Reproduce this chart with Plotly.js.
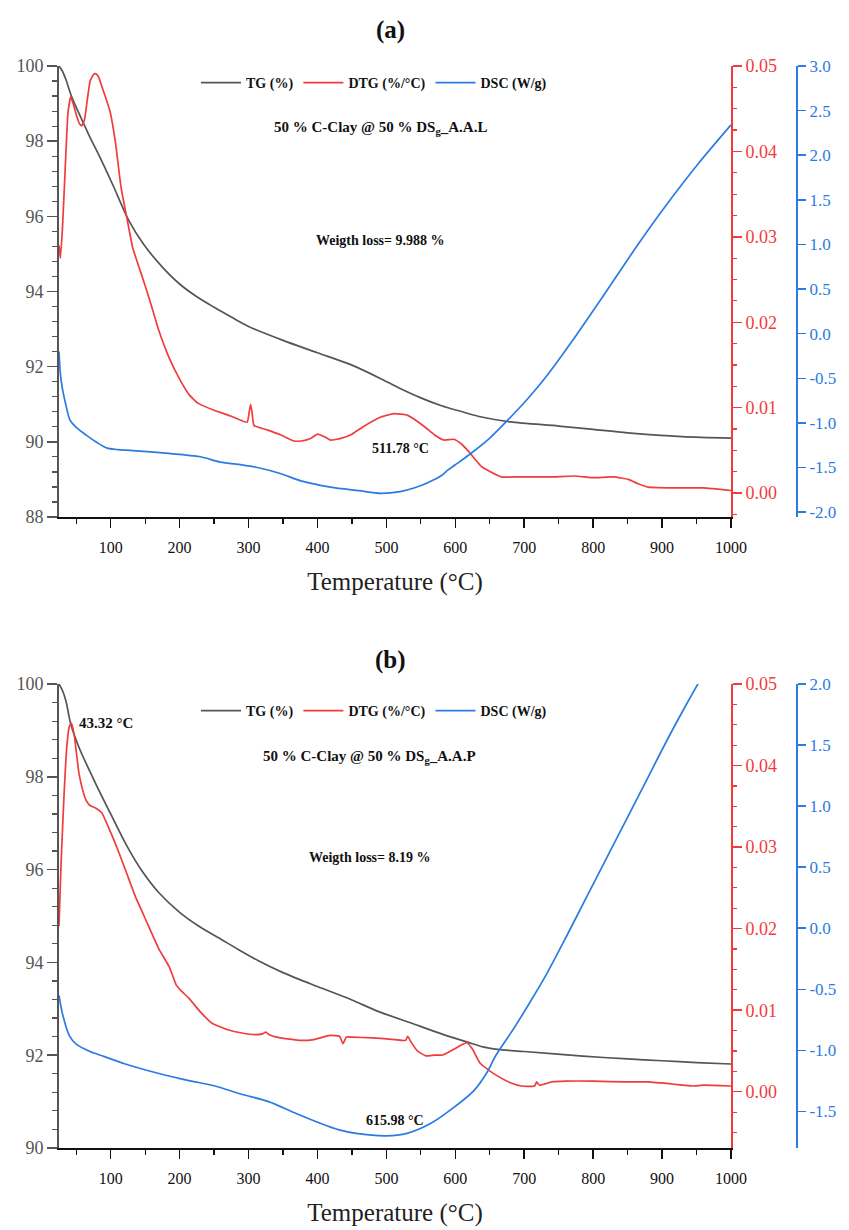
<!DOCTYPE html>
<html>
<head>
<meta charset="utf-8">
<script src="https://cdn.plot.ly/plotly-3.0.1.min.js"></script>
<style>html,body{margin:0;padding:0;background:#fff;}#chart{width:849px;height:1230px;}</style>
</head>
<body>
<div id="chart"></div>
<script>
// ---------- Panel (a): 50 % C-Clay @ 50 % DSg_A.A.L ----------
const tempA_TG = [25,30,35,43,50,60,70,85,104,126,148,175,200,225,250,275,300,350,400,450,492,520,550,580,610,638,680,750,800,850,929,1000];
const tgA      = [100,99.86,99.64,99.2,98.9,98.5,98.1,97.55,96.8,95.9,95.25,94.65,94.2,93.86,93.58,93.32,93.07,92.7,92.37,92.04,91.68,91.42,91.17,90.96,90.8,90.66,90.53,90.42,90.33,90.24,90.14,90.1];

const tempA_DTG = [25,27,30,34,38,42,46,50,55,58,62,66,70,75,78,82,88,94,99,107,115,124,132,145,157,170,185,201,214,227,250,275,298,301,303,305,308,327,347,366,376,390,400,410,419,434,450,467,492,511,531,555,570,584,598,608,618,638,667,690,710,740,773,800,830,851,865,880,929,960,1000];
const dtgA      = [0.029,0.0275,0.031,0.038,0.0445,0.0464,0.0455,0.0443,0.0432,0.043,0.0437,0.046,0.0482,0.049,0.0491,0.0488,0.0474,0.046,0.0447,0.041,0.0358,0.032,0.0287,0.0255,0.0225,0.019,0.0158,0.0132,0.0115,0.0105,0.0097,0.009,0.0083,0.0095,0.0104,0.0095,0.0079,0.0074,0.0068,0.0061,0.0061,0.0064,0.0069,0.0066,0.0062,0.0064,0.0069,0.0078,0.0089,0.0093,0.0091,0.0078,0.0068,0.0062,0.0063,0.0058,0.005,0.0031,0.0019,0.0019,0.0019,0.0019,0.002,0.0018,0.0019,0.0016,0.0011,0.0007,0.0006,0.0006,0.0003];

const tempA_DSC = [25,27,30,35,41,50,65,80,94,110,132,180,230,259,290,313,347,376,419,460,492,520,540,560,580,589,600,623,650,676,705,734,768,817,866,904,953,1000];
const dscA      = [-0.2,-0.45,-0.62,-0.8,-0.97,-1.05,-1.14,-1.22,-1.28,-1.3,-1.31,-1.34,-1.38,-1.44,-1.47,-1.5,-1.57,-1.65,-1.72,-1.76,-1.79,-1.77,-1.73,-1.67,-1.59,-1.53,-1.47,-1.34,-1.17,-0.97,-0.73,-0.46,-0.1,0.45,1.01,1.42,1.91,2.34];

// ---------- Panel (b): 50 % C-Clay @ 50 % DSg_A.A.P ----------
const tempB_TG = [25,30,35,42,55,78,100,122,145,170,200,228,260,285,315,350,400,450,487,544,580,620,640,658,700,785,850,900,950,1000];
const tgB      = [100,99.86,99.64,99.14,98.6,97.86,97.2,96.55,95.98,95.5,95.08,94.78,94.5,94.28,94.03,93.78,93.48,93.19,92.95,92.65,92.46,92.27,92.18,92.13,92.08,91.98,91.92,91.88,91.84,91.81];

const tempB_DTG = [25,28,32,36,40,43,47,54,60,64,70,78,87,100,112,124,136,145,155,170,185,195,202,213,230,247,270,290,310,320,325,330,341,373,395,418,432,437,442,450,480,512,528,531,535,545,557,570,582,600,610,617,625,636,658,680,696,715,718,722,740,760,800,848,880,920,944,960,1000];
const dtgB      = [0.0203,0.028,0.0358,0.042,0.0448,0.0452,0.0438,0.039,0.0368,0.0358,0.0351,0.0348,0.0342,0.0318,0.0293,0.0266,0.0239,0.0222,0.0203,0.0175,0.0153,0.0131,0.0124,0.0115,0.0098,0.0084,0.0076,0.0072,0.007,0.0071,0.0073,0.007,0.0067,0.0063,0.0064,0.0069,0.0068,0.0059,0.0067,0.0067,0.0066,0.0064,0.0063,0.0068,0.0062,0.005,0.0044,0.0045,0.0045,0.0053,0.0058,0.006,0.0052,0.0035,0.0021,0.0011,0.0007,0.0007,0.0012,0.0008,0.0012,0.0013,0.0013,0.0012,0.0012,0.0009,0.0007,0.0008,0.0007];

const tempB_DSC = [25,30,40,50,70,90,120,170,215,250,290,329,370,405,430,456,500,530,564,595,627,645,659,685,709,733,761,790,820,851,880,910,935,960];
const dscB      = [-0.55,-0.7,-0.88,-0.95,-1.01,-1.05,-1.11,-1.19,-1.25,-1.29,-1.36,-1.42,-1.52,-1.6,-1.65,-1.68,-1.7,-1.68,-1.6,-1.48,-1.33,-1.19,-1.04,-0.82,-0.6,-0.37,-0.07,0.25,0.58,0.92,1.24,1.57,1.83,2.08];

// ---------- tick labels ----------
const dscTicksA = [-2.0,-1.5,-1.0,-0.5,0.0,0.5,1.0,1.5,2.0,2.5,3.0];
const dscTickTextA = ["-2.0","-1.5","-1.0","-0.5","0.0","0.5","1.0","1.5","2.0","2.5","3.0"];
const dscTicksB = [-1.5,-1.0,-0.5,0.0,0.5,1.0,1.5,2.0];
const dscTickTextB = ["-1.5","-1.0","-0.5","0.0","0.5","1.0","1.5","2.0"];

const seriesNames = ["TG (%)", "DTG (%/°C)", "DSC (W/g)"];

const W = 849, H = 1230;
const FONT = "Liberation Serif, DejaVu Serif, serif";
const C_TG = "#555555", C_DTG = "#f03c3c", C_DSC = "#2b7be2";
const C_AXL = "#555555";

const px = v => v / W;
const py = v => 1 - v / H;

const xDom = [px(59), px(731)];
const yDomA = [py(517), py(66)];
const yDomB = [py(1148), py(684)];
const bluePos = px(797);

function line(c, sm) {
  return {color: c, width: 1.7, shape: 'spline', smoothing: sm};
}

const traces = [
  {x: tempA_TG, y: tgA, xaxis: 'x', yaxis: 'y', name: seriesNames[0], mode: 'lines', line: line(C_TG, 0.8), legend: 'legend'},
  {x: tempA_DTG, y: dtgA, xaxis: 'x', yaxis: 'y2', name: seriesNames[1], mode: 'lines', line: line(C_DTG, 0.4), legend: 'legend'},
  {x: tempA_DSC, y: dscA, xaxis: 'x', yaxis: 'y3', name: seriesNames[2], mode: 'lines', line: line(C_DSC, 0.8), legend: 'legend'},
  {x: tempB_TG, y: tgB, xaxis: 'x2', yaxis: 'y4', name: seriesNames[0], mode: 'lines', line: line(C_TG, 0.8), legend: 'legend2'},
  {x: tempB_DTG, y: dtgB, xaxis: 'x2', yaxis: 'y5', name: seriesNames[1], mode: 'lines', line: line(C_DTG, 0.4), legend: 'legend2'},
  {x: tempB_DSC, y: dscB, xaxis: 'x2', yaxis: 'y6', name: seriesNames[2], mode: 'lines', line: line(C_DSC, 0.8), legend: 'legend2'}
];

function xAxis(anchor) {
  return {
    domain: xDom, anchor: anchor, range: [25, 1000], tick0: 0, dtick: 100,
    showgrid: false, zeroline: false, showline: true, linecolor: '#111', linewidth: 1.5,
    ticks: 'outside', ticklen: 9, tickwidth: 1.5, tickcolor: '#111',
    minor: {dtick: 50, ticks: 'outside', ticklen: 5, tickwidth: 1.2, tickcolor: '#111'},
    tickfont: {family: FONT, size: 16, color: '#111'},
    ticklabelstandoff: 6,
    title: {text: 'Temperature (°C)', font: {family: FONT, size: 25, color: '#222'}, standoff: 18},
    automargin: false
  };
}
function tgAxis(anchor, dom, range) {
  return {
    domain: dom, anchor: anchor, range: range, tick0: 80, dtick: 2,
    showgrid: false, zeroline: false, showline: true, linecolor: C_AXL, linewidth: 2,
    ticks: 'outside', ticklen: 10, tickwidth: 1.5, tickcolor: C_AXL,
    minor: {dtick: 0.4, ticks: 'outside', ticklen: 5, tickwidth: 1.2, tickcolor: C_AXL},
    tickfont: {family: FONT, size: 18, color: '#555'}, automargin: false
  };
}
function dtgAxis(over, anchor, range) {
  return {
    overlaying: over, anchor: anchor, side: 'right', range: range, tick0: 0, dtick: 0.01, tickformat: '.2f',
    showgrid: false, zeroline: false, showline: true, linecolor: C_DTG, linewidth: 2,
    ticks: 'outside', ticklen: 9, tickwidth: 1.5, tickcolor: C_DTG,
    minor: {dtick: 0.0025, ticks: 'outside', ticklen: 4, tickwidth: 1.2, tickcolor: C_DTG},
    tickfont: {family: FONT, size: 18, color: C_DTG}, automargin: false
  };
}
function dscAxis(over, range, vals, text) {
  return {
    overlaying: over, anchor: 'free', position: bluePos, side: 'right', range: range,
    tickmode: 'array', tickvals: vals, ticktext: text,
    showgrid: false, zeroline: false, showline: true, linecolor: C_DSC, linewidth: 2,
    ticks: 'outside', ticklen: 8, tickwidth: 1.5, tickcolor: C_DSC,
    tickfont: {family: FONT, size: 17, color: C_DSC}, automargin: false
  };
}

const bold = (t, size) => ({text: t, showarrow: false, font: {family: FONT, size: size, color: '#111', weight: 'bold'}});

const annotations = [
  Object.assign(bold('(a)', 25), {xref: 'paper', yref: 'paper', x: px(390), y: py(30), yanchor: 'middle'}),
  Object.assign(bold('(b)', 25), {xref: 'paper', yref: 'paper', x: px(390), y: py(660), yanchor: 'middle'}),
  Object.assign(bold('78.42 °C', 15), {xref: 'x', yref: 'y', x: 102, y: 100.22}),
  Object.assign(bold('50 % C-Clay @ 50 % DS<sub>g</sub>_A.A.L', 15), {xref: 'x', yref: 'y', x: 492, y: 98.36}),
  Object.assign(bold('Weigth loss= 9.988 %', 14), {xref: 'x', yref: 'y', x: 492, y: 95.35}),
  Object.assign(bold('511.78 °C', 14), {xref: 'x', yref: 'y', x: 521, y: 89.81}),
  Object.assign(bold('43.32 °C', 15), {xref: 'x2', yref: 'y4', x: 51, y: 99.17, xanchor: 'left'}),
  Object.assign(bold('50 % C-Clay @ 50 % DS<sub>g</sub>_A.A.P', 15), {xref: 'x2', yref: 'y4', x: 476, y: 98.43}),
  Object.assign(bold('Weigth loss= 8.19 %', 14), {xref: 'x2', yref: 'y4', x: 476, y: 96.27}),
  Object.assign(bold('615.98 °C', 14), {xref: 'x2', yref: 'y4', x: 512, y: 90.6})
];

const legendStyle = (yc) => ({
  orientation: 'h', x: px(196), xanchor: 'left', y: py(yc), yanchor: 'middle',
  bgcolor: 'rgba(0,0,0,0)', borderwidth: 0, itemwidth: 40, tracegroupgap: 0,
  font: {family: FONT, size: 14, color: '#111', weight: 'bold'}
});

const layout = {
  width: W, height: H,
  margin: {l: 0, r: 0, t: 0, b: 0, pad: 0},
  paper_bgcolor: '#fff', plot_bgcolor: 'rgba(0,0,0,0)',
  showlegend: true,
  legend: legendStyle(83),
  legend2: legendStyle(711),
  xaxis: xAxis('y'),
  yaxis: tgAxis('x', yDomA, [88, 100]),
  yaxis2: dtgAxis('y', 'x', [-0.0028, 0.05]),
  yaxis3: dscAxis('y', [-2.055, 3.0], dscTicksA, dscTickTextA),
  xaxis2: xAxis('y4'),
  yaxis4: tgAxis('x2', yDomB, [90, 100]),
  yaxis5: dtgAxis('y4', 'x2', [-0.0069, 0.05]),
  yaxis6: dscAxis('y4', [-1.8, 2.0], dscTicksB, dscTickTextB),
  annotations: annotations
};

Plotly.newPlot('chart', traces, layout, {displayModeBar: false, staticPlot: true});
</script>
</body>
</html>
